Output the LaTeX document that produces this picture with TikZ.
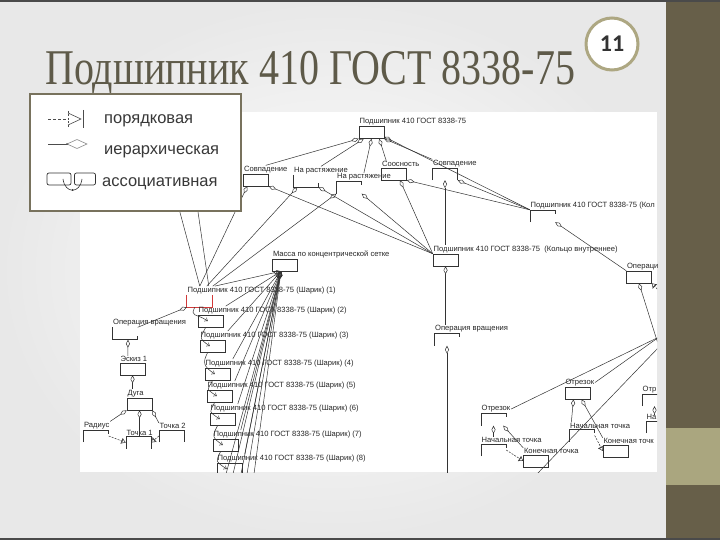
\documentclass[tikz,border=0pt]{standalone}
\usepackage{fontspec}
\usepackage{graphicx}
\setmainfont{Liberation Serif}
\setsansfont{Liberation Sans}
\newfontfamily\pagefont{Carlito}
\usetikzlibrary{arrows.meta}

\definecolor{titlegray}{HTML}{5E5A49}
\definecolor{stripolive}{HTML}{675F49}
\definecolor{bandkhaki}{HTML}{AAA67F}
\definecolor{ringkhaki}{HTML}{ADA782}
\definecolor{framegray}{HTML}{78725D}
\definecolor{edgedark}{HTML}{4A4A4A}
\definecolor{selred}{HTML}{D23A3A}

\tikzset{
  cls/.style={draw=black!80, line width=0.5pt, minimum width=25pt, minimum height=12pt, inner sep=0pt},
  cell/.style={minimum width=25pt, minimum height=12pt, inner sep=0pt},
  lbl/.style={anchor=south west, inner sep=0.6pt, font=\sffamily\fontsize{7.6}{7.6}\selectfont, text=black!85},
  wire/.style={draw=black!80, line width=0.5pt},
  hier/.style={wire, {Diamond[open, length=8pt, width=4pt]}-},
  seq/.style={wire, dash pattern=on 2pt off 1.2pt, -{Bar[width=6pt] Triangle[open, length=4pt, width=5pt]}},
  assoc/.style={wire, -{Straight Barb[length=2.5pt, width=4pt]}},
  legtxt/.style={anchor=base west, inner sep=0pt, font=\sffamily\fontsize{16.5}{16.5}\selectfont, text=black!78},
}

% half drawn class boxes
\newcommand\openL[1]{\draw[wire] (#1.north west) -- (#1.south west) -- (#1.south east) -- ++(0,-4);}
\newcommand\openG[1]{\draw[wire] (#1.south west) -- (#1.north west) -- (#1.north east) -- ++(0,4);}
\newcommand\openN[1]{\draw[wire] (#1.south west) -- (#1.north west) -- (#1.north east) -- (#1.south east);}

\begin{document}
\begin{tikzpicture}[x=1pt,y=-1pt]
\useasboundingbox (0,0) rectangle (720,540);
% slide
\shade[inner color=white, outer color=black!9] (0,0) rectangle (666,540);
\fill[stripolive] (666,0) rectangle (720,540);
\fill[bandkhaki] (666,428) rectangle (720,485);
\fill[edgedark] (0,0) rectangle (720,2.5);
\fill[edgedark] (0,537.5) rectangle (720,540);
\node[anchor=base west, inner sep=0pt, text=titlegray, font=\fontsize{50}{50}\selectfont] (title) at (45,85) {\scalebox{0.8}[1]{Подшипник 410 ГОСТ 8338-75}};
\node[circle, draw=ringkhaki, line width=3pt, fill=white, minimum size=52pt, inner sep=0pt, font=\pagefont\bfseries\fontsize{24}{24}\selectfont, text=black!80] (pg) at (612,44) {11};

% diagram
\fill[white] (80,112) rectangle (657,472);
\begin{scope}
\clip (80,112) rectangle (657,472);

\node[cls] (T0) at (371.5,132.5) {};
\node[lbl] (tT0) at (T0.north west) {Подшипник 410 ГОСТ 8338-75};
\node[cls] (Sov1) at (256,180) {};
\node[lbl] (tSov1) at (Sov1.north west) {Совпадение};
\node[cell] (Rast1) at (306,181) {}; \openL{Rast1}
\node[lbl] (tRast1) at (Rast1.north west) {На растяжение};
\node[cell] (Rast2) at (349,187.5) {}; \openG{Rast2}
\node[lbl] (tRast2) at (Rast2.north west) {На растяжение};
\node[cls] (Soos) at (394,174) {};
\node[lbl] (tSoos) at (Soos.north west) {Соосность};
\node[cell] (Sov2) at (445,174) {}; \openN{Sov2}
\node[lbl] (tSov2) at (Sov2.north west) {Совпадение};
\node[cell] (Kol) at (542.5,216) {}; \openG{Kol}
\node[lbl] (tKol) at (Kol.north west) {Подшипник 410 ГОСТ 8338-75 (Кол};
\node[cls] (KolV) at (445.5,260) {};
\node[lbl] (tKolV) at (KolV.north west) {Подшипник 410 ГОСТ 8338-75 \ (Кольцо внутреннее)};
\node[cls] (Oper) at (639,277) {};
\node[lbl] (tOper) at (Oper.north west) {Операци};
\node[cell] (OpVr2) at (447,339.5) {}; \openG{OpVr2}
\node[lbl] (tOpVr2) at (OpVr2.north west) {Операция вращения};
\node[cls] (Massa) at (285,265) {};
\node[lbl] (tMassa) at (Massa.north west) {Масса по концентрической сетке};

% balls
\node[cell] (Sh1) at (199.5,301) {};
\draw[selred, line width=0.7pt] (Sh1.north west) -- (Sh1.south west) -- (Sh1.south east) -- (Sh1.north east);
\node[lbl] (tSh1) at (Sh1.north west) {Подшипник 410 ГОСТ 8338-75 (Шарик) (1)};
\foreach \n/\x/\y in {2/210.5/321, 3/212.5/346, 4/217.5/374, 5/219.5/396, 6/222.5/419, 7/225.5/445, 8/229.5/469} {
  \node[cls] (Sh\n) at (\x,\y) {};
  \node[lbl] (tSh\n) at (Sh\n.north west) {Подшипник 410 ГОСТ 8338-75 (Шарик) (\n)};
}

% sketch branch
\node[cell] (OpVr1) at (125,333.5) {}; \openL{OpVr1}
\node[lbl] (tOpVr1) at (OpVr1.north west) {Операция вращения};
\node[cls] (Esk) at (132.5,369) {};
\node[lbl] (tEsk) at (Esk.north west) {Эскиз 1};
\node[cls] (Duga) at (139.5,404) {};
\node[lbl] (tDuga) at (Duga.north west) {Дуга};
\node[cell] (Rad) at (96,436) {}; \openG{Rad}
\node[lbl] (tRad) at (Rad.north west) {Радиус};
\node[cell] (T1) at (138.5,442.5) {}; \openN{T1}
\node[lbl] (tT1) at (T1.north west) {Точка 1};
\node[cell] (T2) at (171.5,436) {}; \openN{T2}
\node[lbl] (tT2) at (T2.north west) {Точка 2};

% segments
\node[cell] (OtrA) at (493.5,419.5) {}; \openG{OtrA}
\node[lbl] (tOtrA) at (OtrA.north west) {Отрезок};
\node[cell] (NachA) at (493.5,450) {}; \openG{NachA}
\node[lbl] (tNachA) at (NachA.north west) {Начальная точка};
\node[cls] (KonA) at (536,461) {};
\node[lbl] (tKonA) at (KonA.north west) {Конечная точка};
\node[cls] (OtrB) at (577.5,393) {};
\node[lbl] (tOtrB) at (OtrB.north west) {Отрезок};
\node[cell] (NachB) at (582,435.5) {}; \openG{NachB}
\node[lbl] (tNachB) at (NachB.north west) {Начальная точка};
\node[cls] (KonB) at (615.5,451) {};
\node[lbl] (tKonB) at (KonB.north west) {Конечная точк};
\node[cell] (OtrC) at (654.5,400) {}; \openG{OtrC}
\node[lbl] (tOtrC) at (OtrC.north west) {Отр};
\node[cell] (NachC) at (658.5,427) {}; \openG{NachC}
\node[lbl] (tNachC) at (NachC.north west) {На};

\coordinate (hidA) at (178,205);
\coordinate (hidB) at (197,205);
\coordinate (edgeR) at (659,347);
\coordinate (edgeR2) at (659,337);
\coordinate (edgeO) at (664,296);
\coordinate (botA) at (447,474);
\coordinate (botB) at (537,474);
\foreach \x [count=\i] in {226,233,241,247,254} \coordinate (mb\i) at (\x,474);

% top level
\draw[hier] (T0.south west) -- (tSov1.north);
\draw[hier] ([xshift=5pt]T0.south west) -- (tRast1.north);
\draw[hier] (T0.south) -- (tRast2.north);
\draw[hier] ([xshift=-5pt]T0.south east) -- ([xshift=5pt]tSoos.north west);
\draw[hier] (T0.south east) -- (tSov2.north west);
\draw[hier] ([yshift=2pt]T0.south east) -- (Kol.north west);
% second level
\draw[hier] ([xshift=4pt]Sov1.south west) -- ([xshift=13pt]tSh1.north west);
\draw[hier] (Sov1.south east) -- (KolV.north west);
\draw[hier] ([xshift=4pt]Rast1.south west) -- ([xshift=20pt]tSh1.north west);
\draw[hier] (Rast1.south east) -- (KolV.north west);
\draw[hier] (Rast2.south west) -- ([xshift=26pt]tSh1.north west);
\draw[hier] (Rast2.south east) -- (KolV.north west);
\draw[hier] ([xshift=6pt]Soos.south) -- (KolV.north west);
\draw[hier] (Soos.south east) -- (Kol.north west);
\draw[hier] (Sov2.south) -- (Sov2.south |- tKolV.north);
\draw[hier] (Sov2.south east) -- (Kol.north west);
\draw[wire] (hidA) -- ([xshift=13pt]tSh1.north west);
\draw[wire] (hidB) -- ([xshift=22pt]tSh1.north west);
% ring branches
\draw[hier] (Kol.south east) -- (Oper.north west);
\draw[hier] (KolV.south) -- (KolV.south |- tOpVr2.north);
\draw[hier] (OpVr2.south) -- (botA);
\draw[hier] (Oper.south) -- (edgeR);
\draw[seq] (edgeO) -- (Oper.south east);
\draw[wire] (edgeR2) -- (tOtrA.east);
\draw[wire] (edgeR2) -- (tOtrB.east);
\draw[wire] (edgeR) -- (botB);
\draw[hier] (OtrA.south) -- (OtrA.south |- tNachA.north);
\draw[hier] ([xshift=-3pt]OtrA.south east) -- (tKonA.north west);
\draw[seq] (NachA.east) -- (KonA.west);
\draw[hier] ([xshift=-4pt]OtrB.south) -- ([xshift=2pt]tNachB.north west);
\draw[hier] ([xshift=4pt]OtrB.south) -- (tKonB.north west);
\draw[seq] (NachB.east) -- (KonB.west);
\draw[hier] (OtrC.south) -- (OtrC.south |- tNachC.north);
% mass to balls
\foreach \n in {1,...,8} \draw[hier] ([xshift=-4pt]Massa.south) -- ([xshift=28pt]tSh\n.north west);
\foreach \i in {1,...,5} \draw[hier] ([xshift=-4pt]Massa.south) -- (mb\i);
\foreach \n/\m in {1/2, 2/3, 3/4, 4/5, 5/6, 6/7, 7/8}
  \draw[assoc] ([xshift=8pt]Sh\n.south west) .. controls +(-5,10) and +(-12,-8) .. ([xshift=10pt]Sh\m.west);
% sketch
\draw[hier] (Sh1.south west) -- (OpVr1.north east);
\draw[hier] ([xshift=3pt]OpVr1.south) -- ([xshift=8pt]tEsk.north west);
\draw[hier] (Esk.south) -- (Esk.south |- tDuga.north);
\draw[hier] (Duga.south west) -- (tRad.north east);
\draw[hier] (Duga.south) -- (Duga.south |- T1.north);
\draw[hier] (Duga.south east) -- (tT2.north west);
\draw[seq] (Rad.east) -- (T1.west);
\draw[seq] (T2.west) -- (T1.east);
\end{scope}

% legend
\draw[framegray, line width=2pt, fill=white] (30,94) rectangle (241,211);
\draw[black!70, line width=0.6pt, dash pattern=on 3pt off 2pt] (48,119) -- (68,119);
\draw[black!70, line width=0.6pt, dash pattern=on 2pt off 1.5pt] (68,111) -- (68,127);
\draw[black!70, line width=0.6pt] (68,113) -- (81,119) -- (68,125);
\draw[black!70, line width=0.8pt] (83,110) -- (83,128);
\node[legtxt] (lg1) at (104,124) {порядковая};
\draw[black!70, line width=0.6pt] (48,144) -- (68,144);
\draw[black!45, line width=0.6pt] (67,144) -- (77,139.5) -- (87,144) -- (77,148.5) -- cycle;
\fill[black!70] (67,144) circle (0.9);
\node[legtxt] (lg2) at (104,155) {иерархическая};
\node[draw=black!80, rounded corners=2pt, minimum width=24pt, minimum height=12pt, inner sep=0pt, line width=0.7pt] (lgA) at (59,179) {};
\node[draw=black!80, rounded corners=2pt, minimum width=21pt, minimum height=12pt, inner sep=0pt, line width=0.7pt] (lgB) at (85,179) {};
\draw[black!80, line width=0.6pt] ([xshift=4pt]lgA.center) .. controls +(2,15) and +(-2,15) .. ([xshift=-3pt]lgB.center);
\fill[black!80] (72.5,190) circle (1);
\node[legtxt] (lg3) at (102,187) {ассоциативная};
\end{tikzpicture}
\end{document}
